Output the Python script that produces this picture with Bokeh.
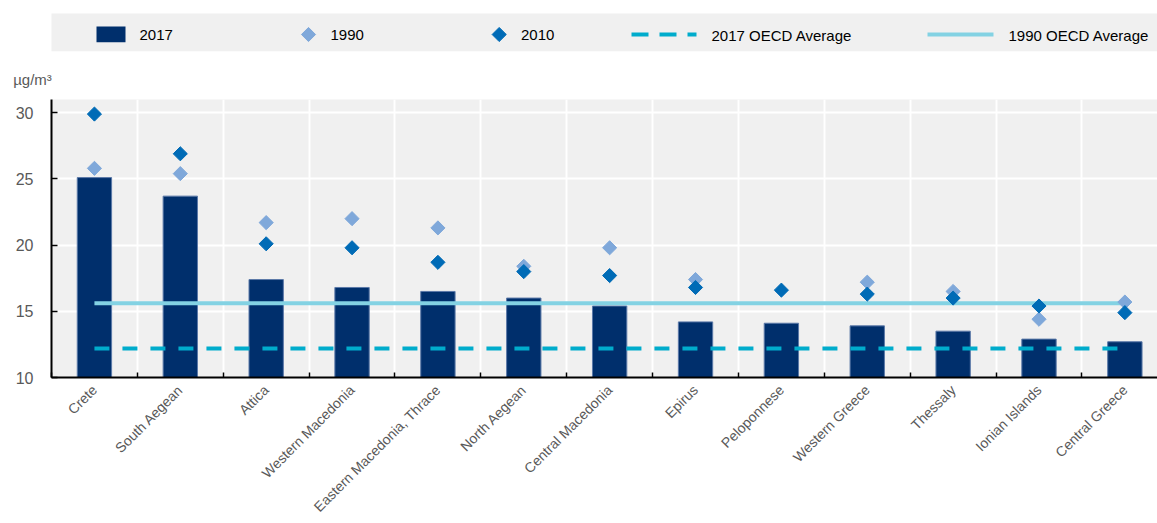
import math
from bokeh.plotting import figure
from bokeh.models import Range1d, FixedTicker
from bokeh.layouts import column
from bokeh.embed import file_html
from bokeh.resources import INLINE
from bokeh.core.properties import value

# ---------------- data ----------------
regions = ["Crete", "South Aegean", "Attica", "Western Macedonia",
           "Eastern Macedonia, Thrace", "North Aegean", "Central Macedonia",
           "Epirus", "Peloponnese", "Western Greece", "Thessaly",
           "Ionian Islands", "Central Greece"]
pm_2017 = [25.1, 23.7, 17.4, 16.8, 16.5, 16.0, 15.4, 14.2, 14.1, 13.9, 13.5, 12.9, 12.7]
pm_1990 = [25.8, 25.4, 21.7, 22.0, 21.3, 18.4, 19.8, 17.4, float("nan"), 17.2, 16.5, 14.4, 15.7]
pm_2010 = [29.9, 26.9, 20.1, 19.8, 18.7, 18.0, 17.7, 16.8, 16.6, 16.3, 16.0, 15.4, 14.9]
oecd_avg_2017 = 12.2
oecd_avg_1990 = 15.6
y_ticks = [10, 15, 20, 25, 30]
legend_labels = ["2017", "1990", "2010", "2017 OECD Average", "1990 OECD Average"]
unit_label = "µg/m³"

# ---------------- styles ----------------
FONT = "Liberation Sans"
C_BAR = "#002F6C"
C_1990 = "#7FA8DA"
C_2010 = "#006BB6"
C_AVG17 = "#00ACCC"
C_AVG90 = "#83D2E3"
C_BG = "#F0F0F0"
C_TXT = "#595959"

W = 1157
LEG_H = 57
MAIN_H = 466
LEFT = 51

xs = list(range(len(regions)))

# ---------------- main chart ----------------
p = figure(width=W, height=MAIN_H, x_range=Range1d(-0.5, 12.38), y_range=Range1d(10, 31.0),
           output_backend="svg", toolbar_location=None, title=unit_label,
           min_border_left=LEFT, min_border_right=0, min_border_top=42, min_border_bottom=146)
p.title.align = "left"
p.title.offset = 12.7 - LEFT
p.title.standoff = 23
p.title.text_font = FONT
p.title.text_font_size = "15px"
p.title.text_font_style = "normal"
p.title.text_color = C_TXT
p.background_fill_color = C_BG
p.border_fill_color = "white"
p.outline_line_color = None

p.vbar(x=xs, top=pm_2017, bottom=10, width=0.4, fill_color=C_BAR,
       line_color="#5b79a8", line_width=1)
p.line(x=xs, y=[oecd_avg_1990] * len(xs), line_color=C_AVG90, line_width=4)
p.line(x=xs, y=[oecd_avg_2017] * len(xs), line_color=C_AVG17, line_width=4, line_dash="15 13")
p.scatter(x=xs, y=pm_1990, marker="square", angle=math.pi / 4, size=10,
          fill_color=C_1990, line_color=C_1990)
p.scatter(x=xs, y=pm_2010, marker="square", angle=math.pi / 4, size=10,
          fill_color=C_2010, line_color=C_2010)

boundaries = [i - 0.5 for i in range(len(regions) + 1)]

p.xgrid.ticker = FixedTicker(ticks=boundaries)
p.xgrid.grid_line_color = "white"
p.xgrid.grid_line_width = 2
p.ygrid.ticker = FixedTicker(ticks=y_ticks)
p.ygrid.grid_line_color = "white"
p.ygrid.grid_line_width = 2

xa = p.xaxis[0]
xa.ticker = FixedTicker(ticks=xs, minor_ticks=boundaries)
xa.major_label_overrides = {i: r for i, r in enumerate(regions)}
xa.major_tick_line_color = None
xa.minor_tick_in = 5
xa.minor_tick_out = 0
xa.minor_tick_line_color = "black"
xa.minor_tick_line_width = 1.5
xa.axis_line_color = "black"
xa.axis_line_width = 2
xa.major_label_orientation = math.pi / 4
xa.major_label_text_font = FONT
xa.major_label_text_font_size = "14px"
xa.major_label_text_color = C_TXT
xa.major_label_standoff = 4

ya = p.yaxis[0]
ya.ticker = FixedTicker(ticks=y_ticks)
ya.minor_tick_line_color = None
ya.major_tick_in = 6
ya.major_tick_out = 0
ya.major_tick_line_color = "black"
ya.major_tick_line_width = 1.5
ya.axis_line_color = "black"
ya.axis_line_width = 2
ya.major_label_text_font = FONT
ya.major_label_text_font_size = "16px"
ya.major_label_text_color = C_TXT
ya.major_label_standoff = 18

# ---------------- legend strip (frame is aligned with main frame) ----------------
lg = figure(width=W, height=LEG_H, x_range=Range1d(LEFT, W), y_range=Range1d(LEG_H, 0),
            output_backend="svg", toolbar_location=None, title=None,
            x_axis_location=None, y_axis_location=None, min_border=0)
lg.grid.visible = False
lg.outline_line_color = None
lg.background_fill_color = "white"
lg.border_fill_color = "white"

lg.quad(left=50, right=W, top=13, bottom=50.7, fill_color=C_BG, line_color=None)
ly = 34
lg.quad(left=96, right=125, top=26, bottom=41.7, fill_color=C_BAR, line_color=None)
lg.scatter(x=[308], y=[ly], marker="square", angle=math.pi / 4, size=10,
           fill_color=C_1990, line_color=C_1990)
lg.scatter(x=[498.7], y=[ly], marker="square", angle=math.pi / 4, size=10,
           fill_color=C_2010, line_color=C_2010)
lg.line(x=[631, 696], y=[ly, ly], line_color=C_AVG17, line_width=4, line_dash="17 11")
lg.line(x=[927, 993], y=[ly, ly], line_color=C_AVG90, line_width=4)
lg.text(x=[139, 330, 520.5, 711, 1008], y=[ly + 0.5] * 5, text=legend_labels,
        text_font=value(FONT), text_font_size=value("15px"), text_color="black",
        text_baseline="middle", text_align="left")

layout = column(lg, p, spacing=0)
open("out.html", "w").write(file_html(layout, INLINE))
